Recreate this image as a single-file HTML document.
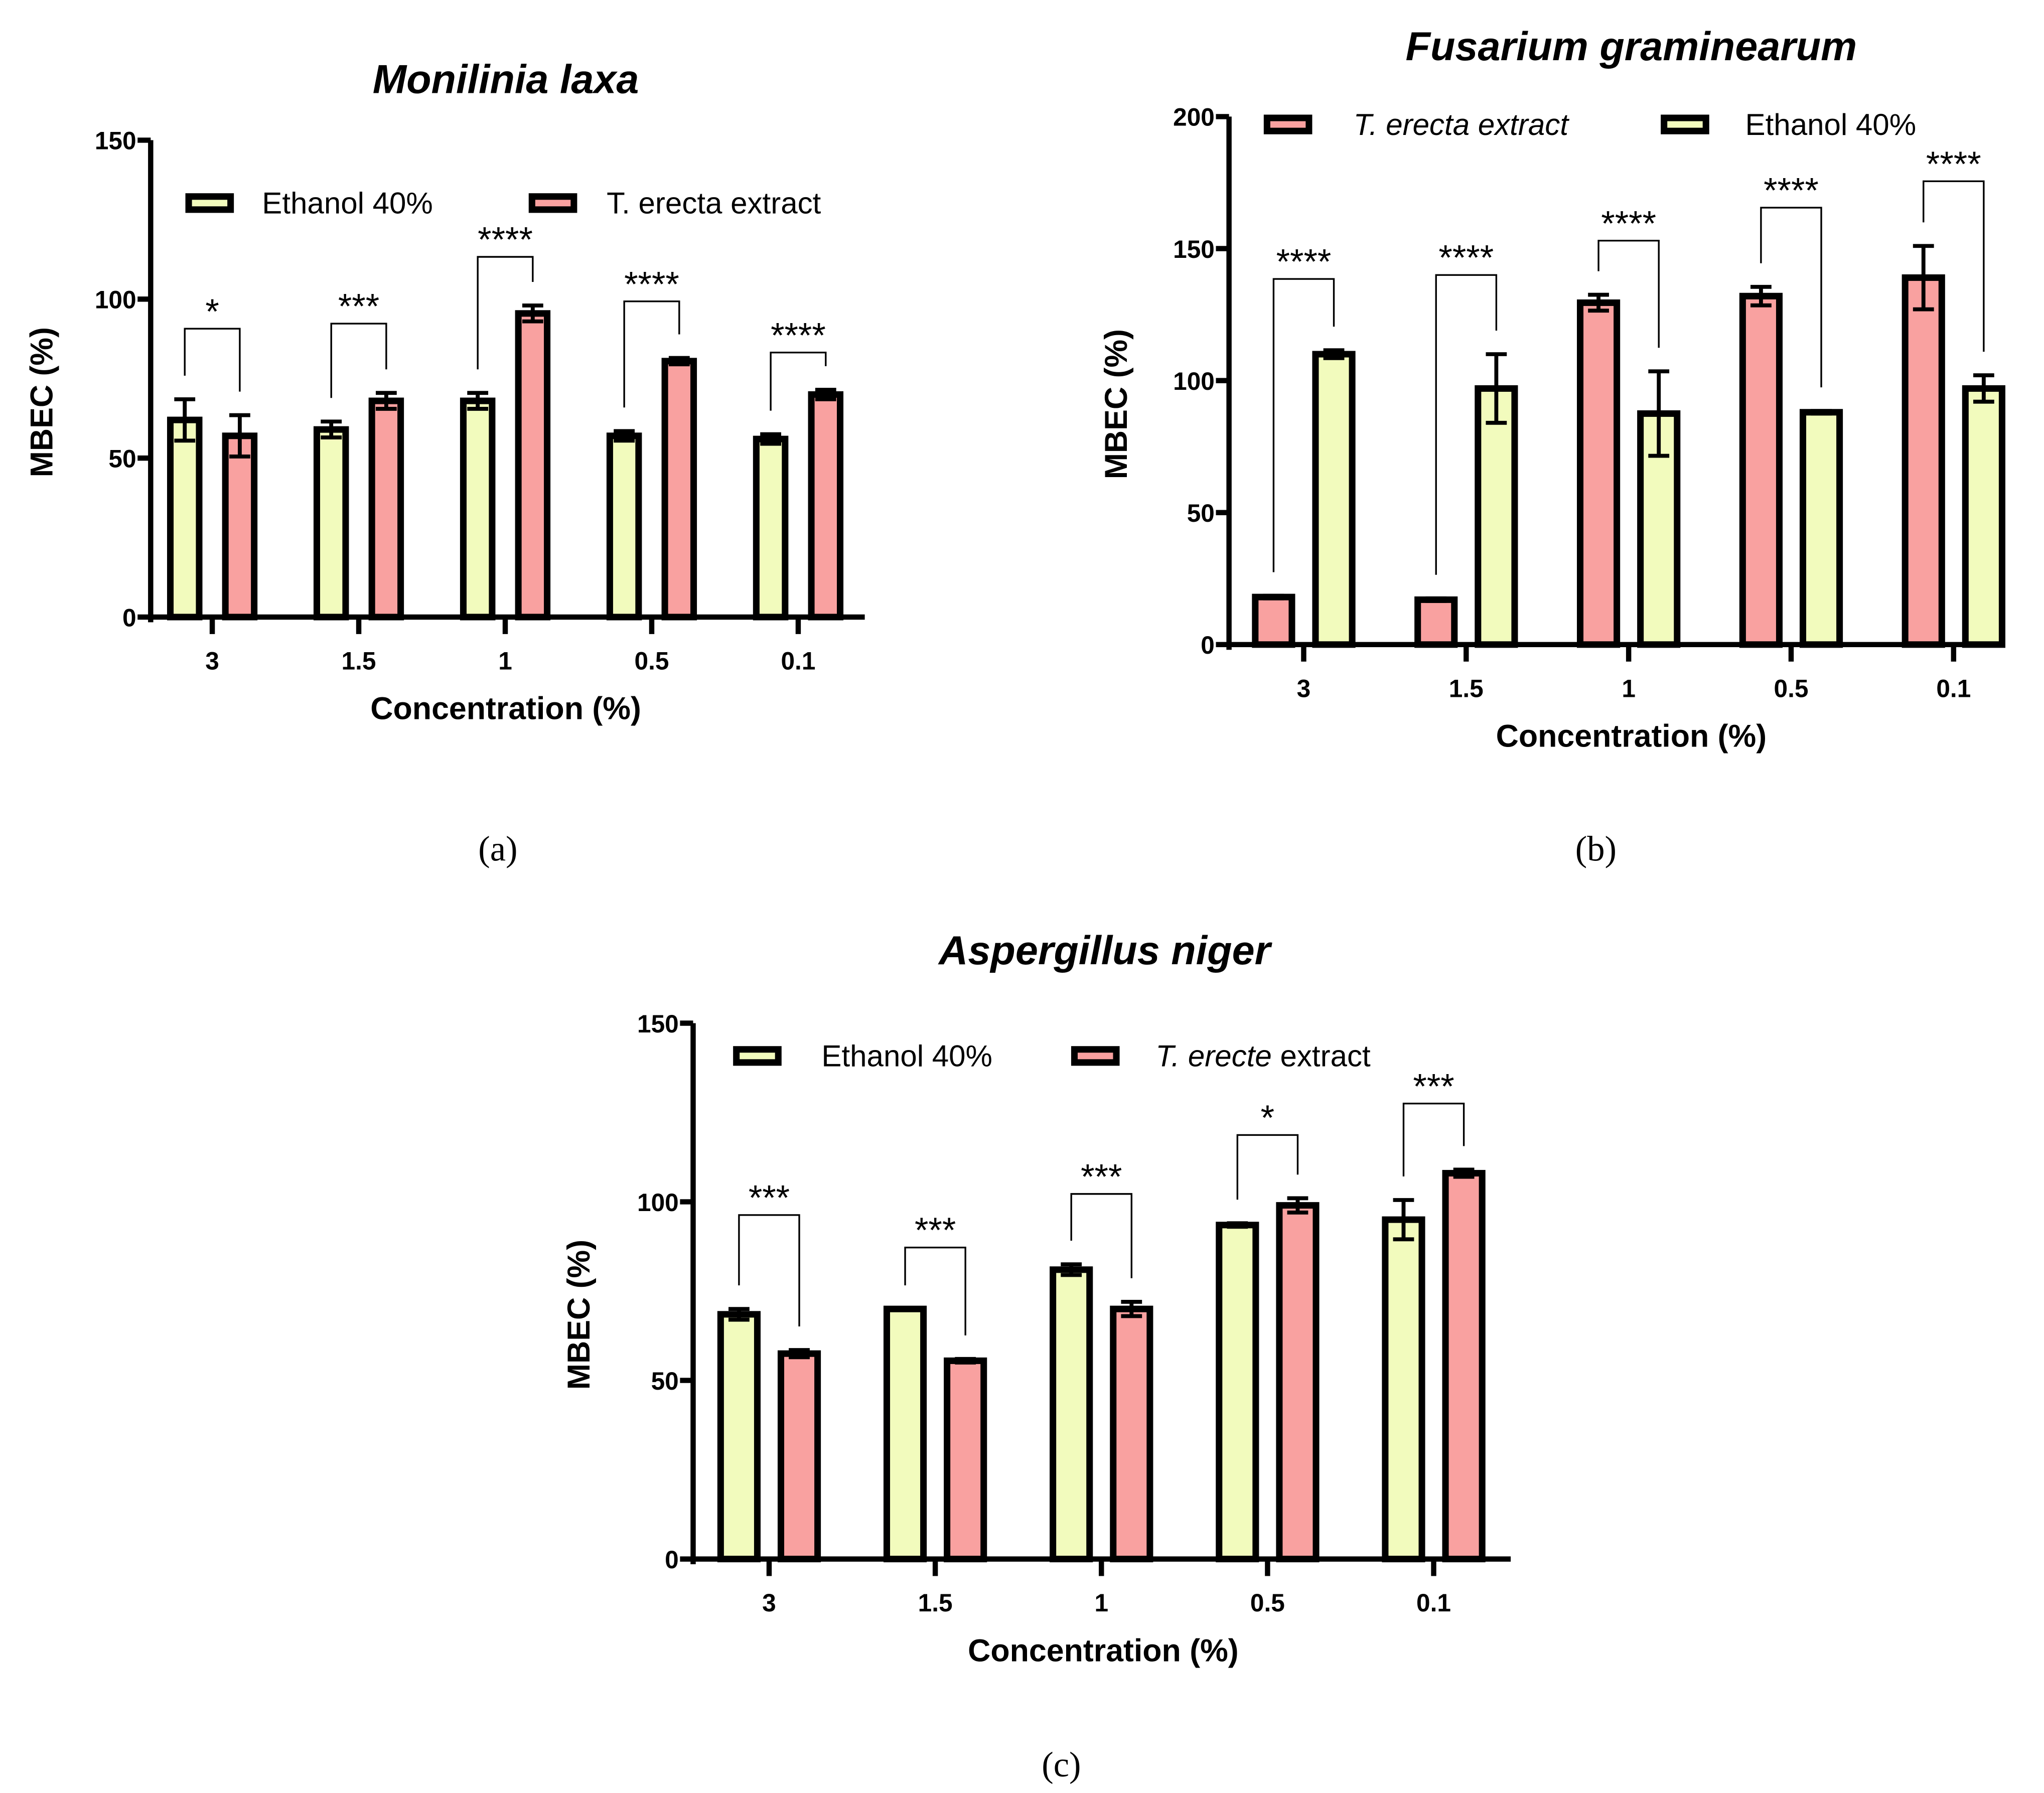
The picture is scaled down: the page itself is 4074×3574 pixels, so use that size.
<!DOCTYPE html>
<html><head><meta charset="utf-8"><style>
html,body{margin:0;padding:0;background:#fff}
svg{display:block}
</style></head><body>
<svg id="fig" width="4074" height="3574" viewBox="0 0 1560 1368.6" preserveAspectRatio="none" xmlns="http://www.w3.org/2000/svg" font-family="Liberation Sans, sans-serif"></svg>
<script>
const categories = ["3","1.5","1","0.5","0.1"];
// Panel a: Monilinia laxa
const aEthanol = [62,59,68,57,56];
const aEthanolErr = [6.5,2.5,2.5,1.5,1.5];
const aExtract = [57,68,95.5,80.5,70];
const aExtractErr = [6.5,2.5,2.5,1,1.5];
const aTicks = [0,50,100,150];
const aStars = ["*","***","****","****","****"];
const aBracketTop = [90.7,92.3,113.3,99.3,83.2];
// Panel b: Fusarium graminearum
const bExtract = [18,17,129.5,132,139];
const bExtractErr = [0.5,0.5,3,3.5,12];
const bEthanol = [110,97,87.5,88,97];
const bEthanolErr = [1.5,13,16,0.5,5];
const bTicks = [0,50,100,150,200];
const bStars = ["****","****","****","****","****"];
const bBracketTop = [138.5,140,153,165.5,175.5];
// Panel c: Aspergillus niger
const cEthanol = [68.5,70,81,93.5,95];
const cEthanolErr = [1.5,0,1.5,0.5,5.5];
const cExtract = [57.5,55.5,70,99,108];
const cExtractErr = [1,0.5,2,2,1];
const cTicks = [0,50,100,150];
const cStars = ["***","***","***","*","***"];
const cBracketTop = [96.3,87.2,102.2,118.7,127.5];

const NS="http://www.w3.org/2000/svg";
const svg=document.getElementById('fig');
const YEL="#f2fbbd", PINK="#f9a1a0";
function mk(tag,attrs,parent){const e=document.createElementNS(NS,tag);for(const k in attrs)e.setAttribute(k,attrs[k]);(parent||svg).appendChild(e);return e;}

function panel(p){
  const g=mk('g',{});
  
  
  const y=v=>p.y0-(v/p.ymax)*(p.y0-p.yTop);
  const x=i=>p.cx0+i*p.step;
  const t=mk('text',{x:p.titleX,y:p.titleY,'text-anchor':'middle','font-size':31,'font-weight':'bold','font-style':'italic'},g);
  t.textContent=p.title;
  
  
  const ya=mk('line',{x1:p.ax,y1:p.yTop,x2:p.ax,y2:p.y0+4,stroke:'#000','stroke-width':4},g);
  
  
  p.ticks.forEach(v=>{
    mk('line',{x1:p.ax-10,y1:y(v),x2:p.ax,y2:y(v),stroke:'#000','stroke-width':4},g);
    const tl=mk('text',{x:p.ax-11,y:y(v)+7,'text-anchor':'end','font-size':19,'font-weight':'bold'},g);
    tl.textContent=v;
    
    
  });
  const xa=mk('line',{x1:p.ax,y1:p.y0,x2:p.axEnd,y2:p.y0,stroke:'#000','stroke-width':4},g);
  
  
  categories.forEach((c,i)=>{
    mk('line',{x1:x(i),y1:p.y0,x2:x(i),y2:p.y0+13,stroke:'#000','stroke-width':4},g);
    const tl=mk('text',{x:x(i),y:p.y0+40,'text-anchor':'middle','font-size':19,'font-weight':'bold'},g);
    tl.textContent=c;
    
    
  });
  const series=[[p.s1,p.e1,p.c1,-p.off],[p.s2,p.e2,p.c2,p.off]];
  series.forEach((s,si)=>{
    s[0].forEach((v,i)=>{
      const cx=x(i)+s[3], w=p.bw;
      const r=mk('rect',{x:cx-w/2,y:y(v),width:w,height:p.y0-y(v),fill:s[2],stroke:'#000','stroke-width':5},g);
      
      
      const e=s[1][i];
      if(e>0){
        const eb=mk('path',{d:`M${cx},${y(v-e)}V${y(v+e)}M${cx-8},${y(v+e)}H${cx+8}M${cx-8},${y(v-e)}H${cx+8}`,stroke:'#000','stroke-width':3,fill:'none'},g);
        
        
      }
    });
  });
  categories.forEach((c,i)=>{
    const xl=x(i)-p.off, xr=x(i)+p.off;
    const top=y(p.bt[i]);
    const lb=y(p.s1[i]+p.e1[i])-18, rb=y(p.s2[i]+p.e2[i])-18;
    const br=mk('path',{d:`M${xl},${lb}V${top}H${xr}V${rb}`,stroke:'#000','stroke-width':1.3,fill:'none'},g);
    
    
    const st=mk('text',{x:x(i),y:top-4,'text-anchor':'middle','font-size':27},g);
    st.textContent=p.stars[i];
    
    
  });
  p.legend.forEach(L=>{
    const sw=mk('rect',{x:L.x,y:L.y-5,width:32,height:10,fill:L.c,stroke:'#000','stroke-width':5},g);
    
    
    const lt=mk('text',{x:L.tx,y:L.y+8,'font-size':23},g);
    lt.innerHTML=L.html;
    
    
  });
  const xt=mk('text',{x:p.xtX,y:p.y0+78,'text-anchor':'middle','font-size':24,'font-weight':'bold'},g);
  xt.textContent='Concentration (%)';
  
  
  const ymid=(p.y0+p.yTop)/2+18;
  const yt=mk('text',{x:p.ytX,y:ymid,'text-anchor':'middle','font-size':24,'font-weight':'bold',transform:`rotate(-90 ${p.ytX} ${ymid})`},g);
  yt.textContent='MBEC (%)';
  
  
  const cap=mk('text',{x:p.capX,y:p.capY,'text-anchor':'middle','font-size':27,style:'font-family:"Liberation Serif",serif'},g);
  cap.textContent=p.cap;
  
  
}

panel({id:'panel-a',title:'Monilinia laxa',titleX:386,titleY:71,ax:115,axEnd:660,yTop:107,y0:471,ymax:150,ticks:aTicks,
  cx0:162,step:111.8,off:21,bw:22,s1:aEthanol,e1:aEthanolErr,c1:YEL,n1:'ethanol',s2:aExtract,e2:aExtractErr,c2:PINK,n2:'extract',
  bt:aBracketTop,stars:aStars,
  legend:[{x:144,y:155,c:YEL,tx:200,html:'Ethanol 40%'},{x:406,y:155,c:PINK,tx:463,html:'T. erecta extract'}],
  xtX:386,ytX:40,cap:'(a)',capX:380,capY:657});
panel({id:'panel-b',title:'Fusarium graminearum',titleX:1245,titleY:46,ax:938,axEnd:1530,yTop:89,y0:492,ymax:200,ticks:bTicks,
  cx0:995,step:124,off:23,bw:28,s1:bExtract,e1:bExtractErr,c1:PINK,n1:'extract',s2:bEthanol,e2:bEthanolErr,c2:YEL,n2:'ethanol',
  bt:bBracketTop,stars:bStars,
  legend:[{x:967,y:95,c:PINK,tx:1033,html:'<tspan font-style="italic">T. erecta extract</tspan>'},{x:1270,y:95,c:YEL,tx:1332,html:'Ethanol 40%'}],
  xtX:1245,ytX:860,cap:'(b)',capX:1218,capY:657});
panel({id:'panel-c',title:'Aspergillus niger',titleX:843,titleY:736,ax:529,axEnd:1153,yTop:781,y0:1190,ymax:150,ticks:cTicks,
  cx0:587,step:126.8,off:23,bw:28,s1:cEthanol,e1:cEthanolErr,c1:YEL,n1:'ethanol',s2:cExtract,e2:cExtractErr,c2:PINK,n2:'extract',
  bt:cBracketTop,stars:cStars,
  legend:[{x:562,y:806,c:YEL,tx:627,html:'Ethanol 40%'},{x:820,y:806,c:PINK,tx:882,html:'<tspan font-style="italic">T. erecte</tspan> extract'}],
  xtX:842,ytX:450,cap:'(c)',capX:810,capY:1356});
</script>
</body></html>
